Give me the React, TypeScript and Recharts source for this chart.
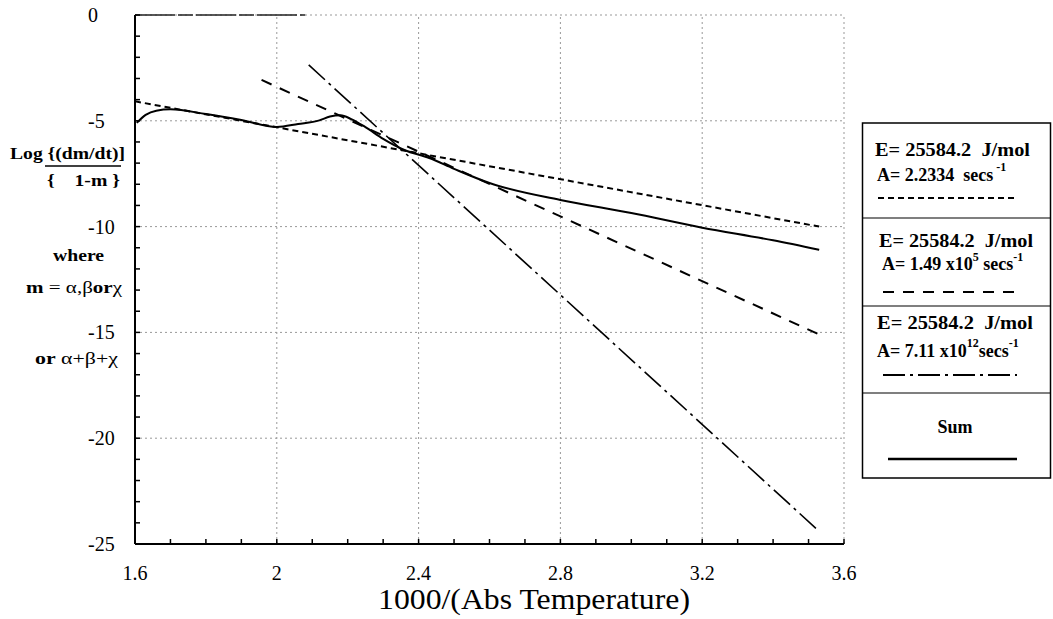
import { LineChart, Line, XAxis, YAxis, ReferenceLine } from "recharts";

const FONT = "'Liberation Serif', 'Times New Roman', serif";

// x / y of each series
const lowAX = [1.6, 3.53];
const lowAY = [-4.08, -10.0];

const midAX = [1.957, 3.53];
const midAY = [-3.07, -15.1];

const highAX = [2.09, 3.53];
const highAY = [-2.36, -24.4];

const sumX = [1.605, 1.63, 1.66, 1.7, 1.8, 1.9, 2.0, 2.06, 2.12, 2.15, 2.18, 2.21, 2.25, 2.3, 2.36, 2.43, 2.5, 2.6, 2.8, 3.0, 3.2, 3.4, 3.53];
const sumY = [-5.1, -4.72, -4.52, -4.46, -4.68, -4.96, -5.29, -5.15, -4.98, -4.8, -4.74, -4.92, -5.3, -5.85, -6.38, -6.76, -7.27, -7.94, -8.74, -9.36, -10.05, -10.65, -11.1];

const xTicks = [1.6, 1.7, 1.8, 1.9, 2, 2.1, 2.2, 2.3, 2.4, 2.5, 2.6, 2.7, 2.8, 2.9, 3, 3.1, 3.2, 3.3, 3.4, 3.5, 3.6];
const xMajor = [1.6, 2, 2.4, 2.8, 3.2, 3.6];
const xLabels = ["1.6", "2", "2.4", "2.8", "3.2", "3.6"];

const yTicks = [0, -1, -2, -3, -4, -5, -6, -7, -8, -9, -10, -11, -12, -13, -14, -15, -16, -17, -18, -19, -20, -21, -22, -23, -24, -25];
const yMajor = [0, -5, -10, -15, -20, -25];
const yLabels = ["0", "-5", "-10", "-15", "-20", "-25"];

const gridX = [2, 2.4, 2.8, 3.2, 3.6];
const gridY = [0, -5, -10, -15, -20];

const toPoints = (xs: number[], ys: number[]) => xs.map((x, i) => ({ x, y: ys[i] }));

const LOW_DASH = "6 4";
const MID_DASH = "11 9";
const HIGH_DASH = "22 5 3 5";

const tickFont = { fontFamily: FONT, fontSize: 20 };

const XTick = ({ x, y, payload }: any) => {
  const idx = xMajor.indexOf(payload.value);
  return (
    <g>
      <line x1={x} y1={y} x2={x} y2={y - 5} stroke="#000" strokeWidth={1.5} />
      {idx >= 0 && (
        <text x={x} y={y + 36} textAnchor="middle" style={tickFont} fill="#000">
          {xLabels[idx]}
        </text>
      )}
    </g>
  );
};

const YTick = ({ x, y, payload }: any) => {
  const idx = yMajor.indexOf(payload.value);
  return (
    <g>
      <line x1={x} y1={y} x2={x + 5} y2={y} stroke="#000" strokeWidth={1.5} />
      {idx >= 0 && (
        <text x={x - 47} y={y + 7} textAnchor="start" style={tickFont} fill="#000">
          {yLabels[idx]}
        </text>
      )}
    </g>
  );
};

const bold = { fontFamily: FONT, fontWeight: 700, fontSize: 17, whiteSpace: "pre" } as const;
const boldLg = { ...bold, fontSize: 18 } as const;

export default function App() {
  return (
    <div style={{ position: "absolute", left: 0, top: 0, width: 1053, height: 619, background: "#fff" }}>
      <LineChart width={1053} height={619} margin={{ top: 15, right: 209, bottom: 45, left: 75 }}>
        <XAxis
          type="number"
          dataKey="x"
          domain={[1.6, 3.6]}
          allowDataOverflow
          ticks={xTicks}
          interval={0}
          tickSize={0}
          tickMargin={0}
          tickLine={false}
          tick={(p: any) => <XTick {...p} />}
          axisLine={{ stroke: "#000", strokeWidth: 2 }}
          height={30}
        />
        <YAxis
          type="number"
          dataKey="y"
          domain={[-25, 0]}
          allowDataOverflow
          ticks={yTicks}
          interval={0}
          tickSize={0}
          tickMargin={0}
          tickLine={false}
          tick={(p: any) => <YTick {...p} />}
          axisLine={{ stroke: "#000", strokeWidth: 2 }}
          width={60}
        />
        {gridX.map((v) => (
          <ReferenceLine key={"gx" + v} x={v} stroke="#999" strokeDasharray="2 3" />
        ))}
        {gridY.map((v) => (
          <ReferenceLine key={"gy" + v} y={v} stroke="#999" strokeDasharray="2 3" />
        ))}
        <ReferenceLine
          segment={[{ x: 1.6, y: 0 }, { x: 2.08, y: 0 }]}
          stroke="#222"
          strokeWidth={1.5}
          strokeDasharray="40 3 15 3"
        />
        <Line data={toPoints(lowAX, lowAY)} dataKey="y" type="linear" stroke="#000" strokeWidth={2}
          strokeDasharray={LOW_DASH} dot={false} isAnimationActive={false} />
        <Line data={toPoints(midAX, midAY)} dataKey="y" type="linear" stroke="#000" strokeWidth={2}
          strokeDasharray={MID_DASH} dot={false} isAnimationActive={false} />
        <Line data={toPoints(highAX, highAY)} dataKey="y" type="linear" stroke="#000" strokeWidth={1.6}
          strokeDasharray={HIGH_DASH} dot={false} isAnimationActive={false} />
        <Line data={toPoints(sumX, sumY)} dataKey="y" type="monotone" stroke="#000" strokeWidth={2}
          dot={false} isAnimationActive={false} />
      </LineChart>

      <svg width={1053} height={619} style={{ position: "absolute", left: 0, top: 0, pointerEvents: "none" }}>
        {/* y axis title */}
        <text x={10} y={159} textLength={115} lengthAdjust="spacingAndGlyphs" style={bold} fill="#000">Log {"{(dm/dt)]"}</text>
        <line x1={45} x2={121} y1={166} y2={166} stroke="#000" strokeWidth={1.5} />
        <text x={47} y={186} textLength={73} lengthAdjust="spacingAndGlyphs" style={bold} fill="#000">{"{    1-m }"}</text>
        <text x={53} y={261} textLength={51} lengthAdjust="spacingAndGlyphs" style={bold} fill="#000">where</text>
        <text x={26} y={293} textLength={96} lengthAdjust="spacingAndGlyphs" style={bold} fill="#000">
          m<tspan fontWeight={400}> = α,β</tspan>or<tspan fontWeight={400}>χ</tspan>
        </text>
        <text x={35} y={364} textLength={83} lengthAdjust="spacingAndGlyphs" style={bold} fill="#000">
          or<tspan fontWeight={400}> α+β+χ</tspan>
        </text>

        {/* x axis title */}
        <text x={534} y={609} textAnchor="middle" style={{ fontFamily: FONT, fontSize: 29 }} textLength={312}
          lengthAdjust="spacingAndGlyphs" fill="#000">1000/(Abs Temperature)</text>

        {/* legend */}
        <rect x={862.5} y={123} width={188} height={355} fill="#fff" stroke="#000" strokeWidth={1.5} />
        <line x1={862.5} x2={1050.5} y1={218} y2={218} stroke="#000" strokeWidth={1.2} />
        <line x1={862.5} x2={1050.5} y1={306} y2={306} stroke="#000" strokeWidth={1.2} />
        <line x1={862.5} x2={1050.5} y1={393} y2={393} stroke="#000" strokeWidth={1.2} />

        <text x={875} y={156} textLength={155} lengthAdjust="spacingAndGlyphs" style={boldLg} fill="#000">E= 25584.2  J/mol</text>
        <text x={877} y={181} style={boldLg} fill="#000">
          A= 2.2334  secs<tspan dy={-10} fontSize={12}> -1</tspan>
        </text>
        <line x1={878} x2={1017} y1={198} y2={198} stroke="#000" strokeWidth={2} strokeDasharray={LOW_DASH} />

        <text x={879} y={247} textLength={154} lengthAdjust="spacingAndGlyphs" style={boldLg} fill="#000">E= 25584.2  J/mol</text>
        <text x={882} y={270} style={boldLg} fill="#000">
          A= 1.49 x10<tspan dy={-9} fontSize={12}>5</tspan><tspan dy={9}> secs</tspan><tspan dy={-9} fontSize={12}>-1</tspan>
        </text>
        <line x1={883} x2={1017} y1={292} y2={292} stroke="#000" strokeWidth={2} strokeDasharray={MID_DASH} />

        <text x={877} y={329} textLength={156} lengthAdjust="spacingAndGlyphs" style={boldLg} fill="#000">E= 25584.2  J/mol</text>
        <text x={877} y={357} style={boldLg} fill="#000">
          A= 7.11 x10<tspan dy={-10} fontSize={12}>12</tspan><tspan dy={10}>secs</tspan><tspan dy={-10} fontSize={12}>-1</tspan>
        </text>
        <line x1={883} x2={1017} y1={375} y2={375} stroke="#000" strokeWidth={1.8} strokeDasharray={HIGH_DASH} />

        <text x={955} y={433} textAnchor="middle" style={boldLg} fill="#000">Sum</text>
        <line x1={888} x2={1017} y1={459} y2={459} stroke="#000" strokeWidth={2.5} />
      </svg>
    </div>
  );
}
